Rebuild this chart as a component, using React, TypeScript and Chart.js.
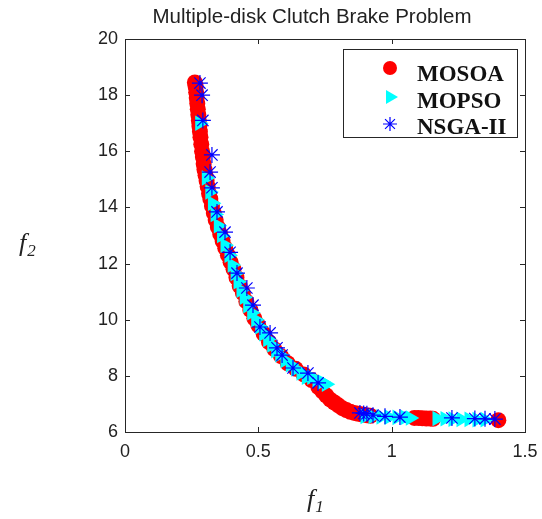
import React, { useEffect, useRef } from 'react';
import { Chart, registerables } from 'chart.js';
Chart.register(...registerables);

const titleText = 'Multiple-disk Clutch Brake Problem';
const seriesNames = ['MOSOA', 'MOPSO', 'NSGA-II'];

const mosoaF1 = [0.262, 0.265, 0.267, 0.269, 0.271, 0.273, 0.275, 0.277, 0.279, 0.281, 0.283, 0.286, 0.289, 0.292, 0.295, 0.298, 0.302, 0.306, 0.31, 0.315, 0.32, 0.326, 0.333, 0.34, 0.348, 0.357, 0.366, 0.376, 0.386, 0.396, 0.407, 0.418, 0.43, 0.442, 0.455, 0.47, 0.485, 0.5, 0.52, 0.54, 0.56, 0.585, 0.61, 0.64, 0.67, 0.7, 0.725, 0.74, 0.755, 0.77, 0.785, 0.8, 0.815, 0.83, 0.845, 0.86, 0.875, 0.89, 0.905, 0.92, 1.085, 1.1, 1.115, 1.13, 1.145, 1.155, 1.4];
const mosoaF2 = [18.45, 18.3, 18.1, 17.9, 17.7, 17.5, 17.3, 17.1, 16.9, 16.7, 16.5, 16.25, 16.0, 15.8, 15.55, 15.35, 15.15, 14.95, 14.75, 14.5, 14.3, 14.05, 13.8, 13.55, 13.3, 13.05, 12.8, 12.55, 12.3, 12.05, 11.8, 11.5, 11.2, 10.95, 10.65, 10.35, 10.05, 9.8, 9.5, 9.2, 8.95, 8.7, 8.45, 8.25, 8.05, 7.85, 7.6, 7.45, 7.3, 7.15, 7.05, 6.95, 6.85, 6.78, 6.72, 6.68, 6.65, 6.62, 6.6, 6.58, 6.5, 6.5, 6.49, 6.48, 6.48, 6.47, 6.42];

const mopsoF1 = [0.28, 0.305, 0.318, 0.328, 0.338, 0.35, 0.362, 0.375, 0.39, 0.402, 0.413, 0.424, 0.435, 0.447, 0.46, 0.475, 0.49, 0.505, 0.52, 0.535, 0.55, 0.565, 0.58, 0.6, 0.62, 0.64, 0.66, 0.68, 0.7, 0.72, 0.74, 0.755, 0.9, 0.93, 0.96, 0.99, 1.02, 1.05, 1.07, 1.17, 1.2, 1.23, 1.26, 1.29, 1.32, 1.35];
const mopsoF2 = [17.0, 15.05, 14.55, 14.15, 13.75, 13.35, 13.0, 12.65, 12.3, 11.95, 11.65, 11.35, 11.05, 10.8, 10.5, 10.25, 10.0, 9.75, 9.5, 9.3, 9.1, 8.9, 8.75, 8.55, 8.4, 8.25, 8.1, 7.95, 7.95, 7.85, 7.78, 7.7, 6.55, 6.55, 6.54, 6.53, 6.52, 6.52, 6.5, 6.48, 6.47, 6.46, 6.45, 6.45, 6.44, 6.44];

const nsgaF1 = [0.281, 0.289, 0.292, 0.326, 0.319, 0.326, 0.345, 0.375, 0.394, 0.42, 0.457, 0.48, 0.506, 0.544, 0.57, 0.589, 0.63, 0.686, 0.724, 0.881, 0.895, 0.907, 0.93, 0.975, 1.031, 1.226, 1.312, 1.35, 1.387];
const nsgaF2 = [18.43, 18.0, 17.1, 15.87, 15.26, 14.7, 13.84, 13.12, 12.4, 11.66, 11.13, 10.52, 9.74, 9.53, 9.0, 8.74, 8.28, 8.1, 7.75, 6.68, 6.66, 6.65, 6.6, 6.56, 6.53, 6.5, 6.48, 6.47, 6.46];

const xTicks = [0, 0.5, 1, 1.5];
const yTicks = [6, 8, 10, 12, 14, 16, 18, 20];

const toPoints = (xs: number[], ys: number[]) => xs.map((x, i) => ({ x, y: ys[i] }));

const RED = '#ff0000';
const CYAN = '#00ffff';
const BLUE = '#0000ff';
const AX = '#262626';

const decor = {
  id: 'decor',
  afterDraw(chart: any) {
    const ctx = chart.ctx;
    const { left, right, top, bottom } = chart.chartArea;
    const xs = chart.scales.x;
    const ys = chart.scales.y;
    ctx.save();
    ctx.strokeStyle = AX;
    ctx.lineWidth = 1;
    ctx.strokeRect(Math.round(left) + 0.5, Math.round(top) + 0.5, Math.round(right - left), Math.round(bottom - top));
    const tl = 5;
    ctx.beginPath();
    xTicks.forEach((v) => {
      const px = Math.round(xs.getPixelForValue(v)) + 0.5;
      ctx.moveTo(px, bottom); ctx.lineTo(px, bottom - tl);
      ctx.moveTo(px, top); ctx.lineTo(px, top + tl);
    });
    yTicks.forEach((v) => {
      const py = Math.round(ys.getPixelForValue(v)) + 0.5;
      ctx.moveTo(left, py); ctx.lineTo(left + tl, py);
      ctx.moveTo(right, py); ctx.lineTo(right - tl, py);
    });
    ctx.stroke();

    ctx.fillStyle = '#222';
    ctx.font = '20.5px "Liberation Sans", Arial, sans-serif';
    ctx.textAlign = 'center';
    ctx.textBaseline = 'alphabetic';
    ctx.fillText(titleText, 312, 23);

    const drawSub = (x: number, y: number, main: string, sub: string) => {
      ctx.font = 'italic 26px "Liberation Serif", "Times New Roman", serif';
      ctx.textAlign = 'left';
      const w = ctx.measureText(main).width;
      ctx.fillText(main, x, y);
      ctx.font = 'italic 17px "Liberation Serif", "Times New Roman", serif';
      ctx.fillText(sub, x + w + 1, y + 5);
    };
    drawSub(307, 507, 'f', '1');
    drawSub(19, 251, 'f', '2');

    const bx = 343, by = 49, bw = 174, bh = 88;
    ctx.fillStyle = '#fff';
    ctx.fillRect(bx, by, bw, bh);
    ctx.strokeStyle = AX;
    ctx.strokeRect(bx + 0.5, by + 0.5, bw, bh);
    const mx = 390;
    ctx.fillStyle = RED;
    ctx.beginPath(); ctx.arc(mx, 68, 7, 0, Math.PI * 2); ctx.fill();
    ctx.fillStyle = CYAN;
    ctx.beginPath(); ctx.moveTo(mx + 8, 97); ctx.lineTo(mx - 4, 90); ctx.lineTo(mx - 4, 104); ctx.closePath(); ctx.fill();
    ctx.strokeStyle = BLUE;
    ctx.lineWidth = 1.2;
    ctx.beginPath();
    const sr = 7, sy = 124;
    for (let k = 0; k < 4; k++) {
      const a = (k * Math.PI) / 4;
      ctx.moveTo(mx + Math.cos(a) * sr, sy + Math.sin(a) * sr);
      ctx.lineTo(mx - Math.cos(a) * sr, sy - Math.sin(a) * sr);
    }
    ctx.stroke();
    ctx.fillStyle = '#111';
    ctx.font = 'bold 23px "Liberation Serif", "Times New Roman", serif';
    ctx.textAlign = 'left';
    ctx.fillText(seriesNames[0], 417, 81);
    ctx.fillText(seriesNames[1], 417, 108);
    ctx.fillText(seriesNames[2], 417, 134);
    ctx.restore();
  },
};

export default function App() {
  const ref = useRef<HTMLCanvasElement>(null);
  useEffect(() => {
    if (!ref.current) return;
    const chart = new Chart(ref.current, {
      type: 'scatter',
      data: {
        datasets: [
          {
            label: seriesNames[0],
            data: toPoints(mosoaF1, mosoaF2),
            pointStyle: 'circle',
            pointRadius: 8,
            backgroundColor: RED,
            borderColor: RED,
            borderWidth: 0,
            order: 2,
          },
          {
            label: seriesNames[1],
            data: toPoints(mopsoF1, mopsoF2),
            pointStyle: 'triangle',
            pointRotation: 90,
            pointRadius: 9,
            backgroundColor: CYAN,
            borderColor: CYAN,
            borderWidth: 0,
            order: 1,
          },
          {
            label: seriesNames[2],
            data: toPoints(nsgaF1, nsgaF2),
            pointStyle: 'star',
            pointRadius: 8,
            backgroundColor: BLUE,
            borderColor: BLUE,
            borderWidth: 1.2,
            order: 0,
          },
        ],
      },
      options: {
        responsive: false,
        animation: false,
        devicePixelRatio: 1,
        layout: { padding: { top: 39, right: 17, left: 0, bottom: 0 } },
        plugins: { legend: { display: false }, tooltip: { enabled: false }, title: { display: false } },
        scales: {
          x: {
            type: 'linear',
            min: 0,
            max: 1.5,
            afterBuildTicks: (s: any) => { s.ticks = xTicks.map((v) => ({ value: v })); },
            afterFit: (s: any) => { s.height = 87; s.paddingLeft = 0; s.paddingRight = 0; },
            grid: { display: false, drawTicks: false },
            border: { display: false },
            ticks: {
              padding: 9,
              color: '#222',
              font: { family: '"Liberation Sans", Arial, sans-serif', size: 18 },
              maxRotation: 0,
              callback: (v: any) => String(v),
            },
          },
          y: {
            type: 'linear',
            min: 6,
            max: 20,
            afterBuildTicks: (s: any) => { s.ticks = yTicks.map((v) => ({ value: v })); },
            afterFit: (s: any) => { s.width = 125; s.paddingTop = 0; s.paddingBottom = 0; },
            grid: { display: false, drawTicks: false },
            border: { display: false },
            ticks: {
              padding: 7,
              color: '#222',
              font: { family: '"Liberation Sans", Arial, sans-serif', size: 18 },
              callback: (v: any) => String(v),
            },
          },
        },
      },
      plugins: [decor],
    });
    return () => chart.destroy();
  }, []);
  return (
    <div style={{ position: 'absolute', left: 0, top: 0, width: 542, height: 519, background: '#fff' }}>
      <canvas ref={ref} width={542} height={519} style={{ width: 542, height: 519 }} />
    </div>
  );
}
